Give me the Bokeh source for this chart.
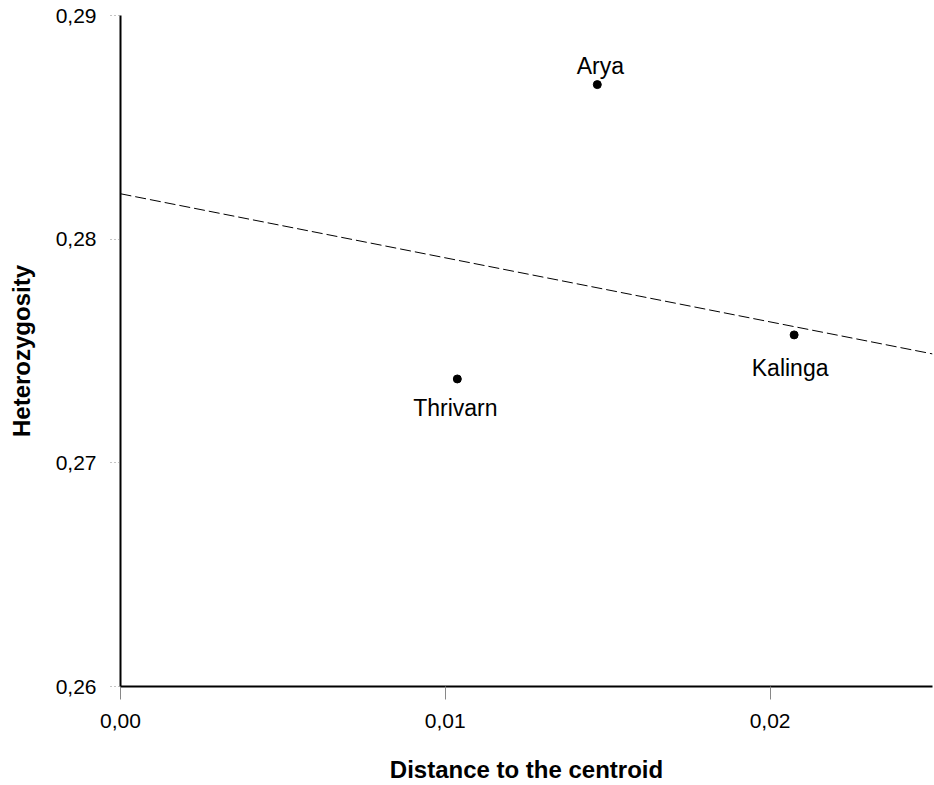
from bokeh.plotting import figure
from bokeh.models import ColumnDataSource, FixedTicker, Range1d
from bokeh.embed import file_html
from bokeh.resources import INLINE
from bokeh.core.properties import value

# Data
names = ["Arya", "Thrivarn", "Kalinga"]
distance = [0.01468, 0.01037, 0.02074]
heterozygosity = [0.28691, 0.27375, 0.27572]
label_dx = [3, -2, -4]
label_dy = [-19, 29, 33]

# Regression line end points (as drawn)
line_x = [0.0, 0.025]
line_y = [0.28203, 0.27487]

x_ticks = [0.0, 0.01, 0.02]
x_tick_labels = ["0,00", "0,01", "0,02"]
y_ticks = [0.26, 0.27, 0.28, 0.29]
y_tick_labels = ["0,26", "0,27", "0,28", "0,29"]

FONT = "Liberation Sans"

p = figure(width=934, height=785, output_backend="svg", toolbar_location=None,
           x_range=Range1d(0, 0.025), y_range=Range1d(0.26, 0.29),
           min_border_left=120, min_border_right=2, min_border_top=15,
           min_border_bottom=99)
p.outline_line_color = None
p.grid.visible = False
p.background_fill_color = "white"
p.border_fill_color = "white"

for ax in (p.xaxis[0], p.yaxis[0]):
    ax.axis_line_color = "black"
    ax.axis_line_width = 2
    ax.major_tick_line_color = "#888888"
    ax.major_tick_line_width = 1
    ax.major_tick_in = 0
    ax.minor_tick_line_color = None
    ax.major_label_text_font = FONT
    ax.major_label_text_font_size = "21px"
    ax.major_label_text_color = "black"
    ax.axis_label_text_font = FONT
    ax.axis_label_text_font_size = "24px"
    ax.axis_label_text_font_style = "bold"
    ax.axis_label_text_color = "black"

p.xaxis.ticker = FixedTicker(ticks=x_ticks)
p.xaxis.major_label_overrides = dict(zip(x_ticks, x_tick_labels))
p.xaxis.major_tick_out = 13
p.xaxis.major_label_standoff = 14
p.xaxis.axis_label = "Distance to the centroid"
p.xaxis.axis_label_standoff = 25

p.yaxis.ticker = FixedTicker(ticks=y_ticks)
p.yaxis.major_label_overrides = dict(zip(y_ticks, y_tick_labels))
p.yaxis.major_tick_out = 10
p.yaxis.major_tick_line_dash = "1 3"
p.yaxis.major_label_standoff = 14
p.yaxis.axis_label = "Heterozygosity"
p.yaxis.axis_label_standoff = 18

p.line(line_x, line_y, line_color="black", line_width=1, line_dash="11 4")

src = ColumnDataSource(dict(x=distance, y=heterozygosity, name=names,
                            dx=label_dx, dy=label_dy))
p.scatter("x", "y", source=src, size=8, fill_color="black", line_color="black")
p.text("x", "y", text="name", source=src, x_offset="dx", y_offset="dy",
       text_align="center", text_baseline="middle",
       text_font=value(FONT), text_font_size="23px", text_color="black")

open("out.html", "w").write(file_html(p, INLINE))
